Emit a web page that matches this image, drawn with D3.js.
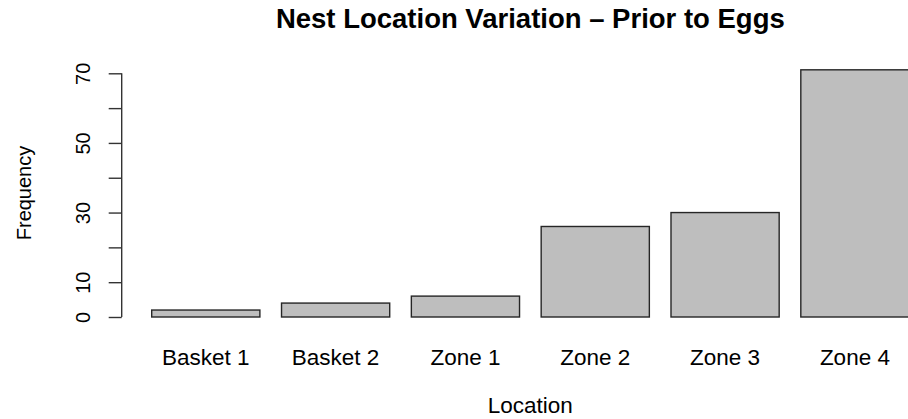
<!DOCTYPE html>
<html>
<head>
<meta charset="utf-8">
<script src="https://cdn.jsdelivr.net/npm/d3@7"></script>
<style>
  html, body { margin: 0; padding: 0; background: #fff; }
  svg { display: block; font-family: "Liberation Sans", Arial, Helvetica, sans-serif; }
</style>
</head>
<body>
<svg id="chart" width="908" height="419"></svg>
<script>
// Nest location counts before eggs were laid
const locations = ["Basket 1", "Basket 2", "Zone 1", "Zone 2", "Zone 3", "Zone 4"];
const frequency = [2, 4, 6, 26, 30, 71];
const yTicks = [0, 10, 20, 30, 40, 50, 60, 70];
const yTickLabels = ["0", "10", "", "30", "", "50", "", "70"];

const title = "Nest Location Variation \u2013 Prior to Eggs";
const xTitle = "Location";
const yTitle = "Frequency";

const svg = d3.select("#chart");

// plot region (extends past the right edge of the page)
const plotLeft = 121.7, plotRight = 939;
const plotCenter = (plotLeft + plotRight) / 2;

const x = d3.scaleBand()
  .domain(locations)
  .range([151.7, 909])
  .paddingInner(1 / 6)
  .paddingOuter(0);

const y = d3.scaleLinear()
  .domain([0, 70])
  .range([317, 73.3]);

// bars
svg.append("g")
  .selectAll("rect")
  .data(locations.map((d, i) => ({ loc: d, n: frequency[i] })))
  .join("rect")
  .attr("x", d => x(d.loc))
  .attr("y", d => y(d.n))
  .attr("width", x.bandwidth())
  .attr("height", d => y(0) - y(d.n))
  .attr("fill", "#bebebe")
  .attr("stroke", "#262626")
  .attr("stroke-width", 1.4);

// y axis
const yAxis = d3.axisLeft(y)
  .tickValues(yTicks)
  .tickSize(13)
  .tickPadding(0)
  .tickFormat((d, i) => yTickLabels[i]);

const gy = svg.append("g")
  .attr("transform", `translate(${plotLeft},0)`)
  .call(yAxis);
gy.select(".domain").remove();
gy.append("line")
  .attr("x1", 0).attr("x2", 0)
  .attr("y1", y(0)).attr("y2", y(70))
  .attr("stroke", "#333").attr("stroke-width", 1.4);
gy.selectAll(".tick line").attr("stroke", "#333").attr("stroke-width", 1.4);
gy.selectAll(".tick text")
  .attr("x", 0).attr("y", 0).attr("dy", null)
  .attr("transform", "translate(-32,0) rotate(-90)")
  .attr("text-anchor", "middle")
  .attr("fill", "#000")
  .style("font-size", "20px");

// category labels
svg.append("g")
  .selectAll("text")
  .data(locations)
  .join("text")
  .attr("x", d => x(d) + x.bandwidth() / 2)
  .attr("y", 365)
  .attr("text-anchor", "middle")
  .style("font-size", "22.5px")
  .text(d => d);

// axis titles
svg.append("text")
  .attr("x", plotCenter)
  .attr("y", 413)
  .attr("text-anchor", "middle")
  .style("font-size", "22.5px")
  .text(xTitle);

svg.append("text")
  .attr("transform", `translate(31,193) rotate(-90)`)
  .attr("text-anchor", "middle")
  .style("font-size", "20px")
  .text(yTitle);

// main title
svg.append("text")
  .attr("x", plotCenter)
  .attr("y", 28)
  .attr("text-anchor", "middle")
  .style("font-size", "27.5px")
  .style("font-weight", "bold")
  .text(title);
</script>
</body>
</html>
